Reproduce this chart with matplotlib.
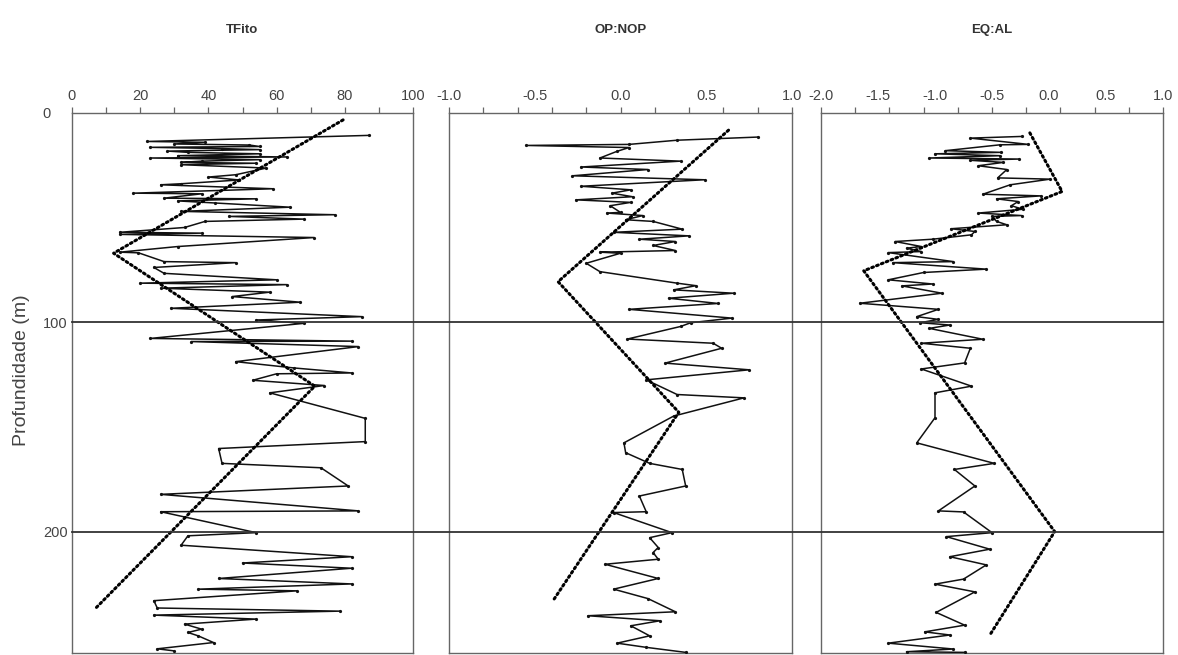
import numpy as np
import matplotlib
matplotlib.use("Agg")
import matplotlib.pyplot as plt
import matplotlib.transforms as mtransforms
from matplotlib.lines import Line2D

plt.rcParams['font.family'] = ['Liberation Sans', 'DejaVu Sans']

# ---------------- data ----------------
tfito_depth = [10.7, 13.6, 14.0, 14.8, 15.3, 16.0, 16.4, 17.0, 17.5, 18.2, 18.8, 19.5, 20.4, 21.0,
               21.5, 22.3, 23.0, 23.6, 24.0, 24.7, 26.3, 29.5, 30.6, 32.0, 33.8, 34.3, 36.2, 38.3,
               38.6, 40.7, 41.0, 42.0, 43.0, 45.0, 47.0, 48.6, 49.4, 50.7, 51.8, 54.7, 57.0, 57.4,
               58.0, 59.5, 63.8, 66.5, 66.8, 71.0, 71.5, 73.8, 76.6, 79.7, 81.3, 82.0, 83.7, 85.6,
               87.7, 90.4, 93.3, 97.3, 98.9, 100.5, 107.7, 109.0, 109.2, 111.6, 118.8, 121.8, 124.2,
               124.6, 127.7, 130.2, 133.7, 145.9, 157.0, 160.3, 167.4, 169.5, 178.2, 182.2, 190.1,
               190.5, 200.5, 202.0, 206.5, 212.0, 215.0, 217.5, 222.4, 225.0, 227.5, 228.3, 233.0,
               236.5, 238.0, 239.9, 241.8, 244.2, 246.6, 248.2, 249.8, 253.0, 256.0, 257.0]
tfito_value = [87, 22, 39, 30, 52, 55, 23, 44, 55, 28, 34, 55, 31, 63,
               23, 55, 38, 32, 54, 32, 57, 48, 40, 49, 32, 26, 59, 18,
               38, 27, 54, 31, 42, 64, 32, 77, 46, 68, 39, 33, 14, 38,
               14, 71, 31, 14, 19.5, 27, 48, 24, 27, 60, 20, 63, 26, 58,
               47, 67, 29, 85, 54, 68, 23, 82, 35, 84, 48, 65, 82,
               60, 53, 74, 58, 86, 86, 43, 44, 73, 81, 26, 84,
               26, 54, 34, 32, 82, 50, 82, 43, 82, 37, 66, 24,
               25, 78.5, 24, 54, 33, 38, 34, 37, 41.5, 25, 30]

opnop_depth = [11.5, 13.0, 15.0, 15.5, 16.5, 18.3, 21.5, 23.0, 25.8, 27.0, 30.0, 31.9, 35.0, 36.7,
               38.3, 40.0, 41.5, 42.7, 44.3, 47.5, 47.8, 49.0, 51.0, 51.8, 55.5, 57.0, 58.7, 60.3,
               61.4, 63.3, 65.7, 66.5, 67.0, 71.8, 75.8, 81.3, 82.5, 84.5, 86.1, 88.5, 91.0, 93.8,
               98.0, 100.2, 102.0, 108.0, 110.0, 112.4, 119.5, 122.7, 127.5, 134.5, 136.1, 144.8,
               157.6, 162.3, 167.4, 170.3, 178.2, 183.0, 190.5, 190.9, 200.5, 202.9, 207.6, 210.0,
               213.2, 215.6, 222.4, 227.5, 232.0, 238.3, 240.2, 242.6, 245.0, 249.8, 253.3, 255.3,
               257.7]
opnop_value = [0.80, 0.33, 0.05, -0.55, 0.05, -0.02, -0.12, 0.35, -0.23, 0.16, -0.28, 0.49, -0.23, 0.06,
               -0.05, 0.07, -0.26, 0.06, -0.06, 0.0, -0.08, 0.13, 0.03, 0.19, 0.36, -0.04, 0.40, 0.11,
               0.32, 0.19, 0.32, -0.12, 0.0, -0.20, -0.12, 0.33, 0.44, 0.31, 0.66, 0.28, 0.57, 0.05,
               0.65, 0.41, 0.35, 0.04, 0.54, 0.59, 0.26, 0.75, 0.15, 0.33, 0.72, 0.31,
               0.02, 0.03, 0.17, 0.36, 0.38, 0.11, 0.15, -0.04, 0.30, 0.17, 0.22, 0.19,
               0.22, -0.09, 0.22, -0.04, 0.16, 0.32, -0.19, 0.23, 0.06, 0.17, -0.02, 0.15,
               0.38]

eqal_depth = [11.2, 12.0, 15.0, 15.2, 18.0, 18.8, 19.5, 20.4, 21.5, 22.0, 22.6, 23.6, 25.2, 27.0,
              31.0, 31.6, 34.3, 38.8, 39.6, 41.0, 42.3, 44.3, 46.0, 47.8, 49.0, 49.4, 51.8, 53.4,
              55.3, 56.6, 58.2, 60.3, 61.4, 63.8, 64.6, 66.2, 66.7, 71.0, 71.5, 74.6, 76.2, 79.7,
              81.7, 82.6, 86.1, 90.9, 93.8, 97.3, 98.6, 100.2, 101.3, 102.9, 108.1, 110.0, 112.4,
              119.4, 122.3, 130.5, 133.7, 145.6, 157.6, 167.4, 170.3, 178.2, 190.1, 190.6, 200.5,
              202.4, 208.4, 212.0, 215.9, 222.7, 225.1, 228.8, 238.6, 244.7, 247.9, 249.4, 253.3,
              256.1, 257.4, 257.7]
eqal_value = [-0.24, -0.69, -0.18, -0.43, -0.91, -0.42, -1.00, -0.43, -1.05, -0.26, -0.69, -0.40, -0.62, -0.37,
              -0.45, 0.01, -0.34, -0.58, -0.07, -0.46, -0.27, -0.33, -0.23, -0.62, -0.24, -0.50, -0.46, -0.37,
              -0.86, -0.65, -0.68, -1.02, -1.35, -1.12, -1.25, -1.12, -1.41, -0.84, -1.37, -0.55, -1.10, -1.41,
              -1.02, -1.29, -0.94, -1.66, -0.97, -1.16, -0.97, -1.13, -0.87, -1.05, -0.58, -1.12, -0.69,
              -0.74, -1.12, -0.68, -1.00, -1.00, -1.16, -0.48, -0.83, -0.65, -0.97, -0.75, -0.50,
              -0.90, -0.52, -0.87, -0.55, -0.75, -1.00, -0.65, -0.99, -0.74, -1.09, -0.87, -1.41,
              -0.84, -1.25, -0.74]

# dotted trend lines
tfito_trend_depth = [3.3, 67.0, 130.5, 237.0]
tfito_trend_value = [79.5, 12.2, 71.2, 6.7]
opnop_trend_depth = [8.2, 80.6, 143.0, 233.2]
opnop_trend_value = [0.63, -0.364, 0.34, -0.395]
eqal_trend_depth = [9.5, 37.5, 75.4, 200.0, 249.5]
eqal_trend_value = [-0.168, 0.115, -1.625, 0.05, -0.52]

titles = ["TFito", "OP:NOP", "EQ:AL"]
xlims = [(0, 100), (-1.0, 1.0), (-2.0, 1.0)]
tick_steps = [10, 0.2, 0.3]
label_ticks = [[0, 20, 40, 60, 80, 100],
               [-1.0, -0.5, 0.0, 0.5, 1.0],
               [-2.0, -1.5, -1.0, -0.5, 0.0, 0.5, 1.0]]
label_texts = [["0", "20", "40", "60", "80", "100"],
               ["-1.0", "-0.5", "0.0", "0.5", "1.0"],
               ["-2.0", "-1.5", "-1.0", "-0.5", "0.0", "0.5", "1.0"]]
depth_ticks = [0, 100, 200]
ref_depths = [100, 200]
ylab = "Profundidade (m)"

# ---------------- figure ----------------
W, H = 1178, 655
fig = plt.figure(figsize=(W / 100, H / 100), dpi=100)

lefts = [72, 449, 821]
rights = [413, 792, 1163]
top_px, bot_px = 113, 653
axes = []
for l, r in zip(lefts, rights):
    ax = fig.add_axes([l / W, 1 - bot_px / H, (r - l) / W, (bot_px - top_px) / H])
    axes.append(ax)

series = [(tfito_depth, tfito_value, tfito_trend_depth, tfito_trend_value),
          (opnop_depth, opnop_value, opnop_trend_depth, opnop_trend_value),
          (eqal_depth, eqal_value, eqal_trend_depth, eqal_trend_value)]

spine_col = "#666666"
txt_col = "#444444"
for i, ax in enumerate(axes):
    d, v, td, tv = series[i]
    ax.plot(v, d, color="#111111", lw=1.1, marker='o', markersize=1.3, zorder=3)
    ax.plot(tv, td, color="black", lw=2.2, linestyle=(0, (0.6, 1.1)),
            dash_capstyle='round', zorder=4)
    ax.set_xlim(*xlims[i])
    ax.set_ylim(258, 0)
    lo, hi = xlims[i]
    n = int(round((hi - lo) / tick_steps[i]))
    minor = [lo + k * tick_steps[i] for k in range(n + 1)]
    ax.xaxis.tick_top()
    ax.xaxis.remove_overlapping_locs = False
    ax.set_xticks(label_ticks[i])
    ax.set_xticklabels(label_texts[i])
    ax.set_xticks(minor, minor=True)
    ax.tick_params(axis='x', which='major', length=0, pad=7, labelsize=10.5,
                   labelcolor=txt_col)
    ax.tick_params(axis='x', which='minor', direction='out', length=4.5,
                   width=0.9, color=spine_col)
    for s in ax.spines.values():
        s.set_color(spine_col)
        s.set_linewidth(1.0)
    if i == 0:
        ax.set_yticks(depth_ticks)
        ax.set_yticklabels([str(t) for t in depth_ticks])
        ax.tick_params(axis='y', length=0, pad=21, labelsize=10.5, labelcolor=txt_col)
        for lab in ax.get_yticklabels():
            lab.set_horizontalalignment('left')
    else:
        ax.set_yticks([])
    fig.text((lefts[i] + rights[i]) / 2 / W, 1 - 30 / H, titles[i], ha='center',
             va='center', fontsize=9.5, fontweight='bold', color="#333333")

# horizontal reference lines across all panels
trans = mtransforms.blended_transform_factory(fig.transFigure, axes[0].transData)
for rd in ref_depths:
    fig.add_artist(Line2D([lefts[0] / W, rights[2] / W], [rd, rd], transform=trans,
                          color="#333333", lw=1.3, zorder=5))

fig.text(22 / W, 1 - 370 / H, ylab, rotation=90, ha='center', va='center',
         fontsize=14, color=txt_col)

fig.savefig("out.png", dpi=100)
